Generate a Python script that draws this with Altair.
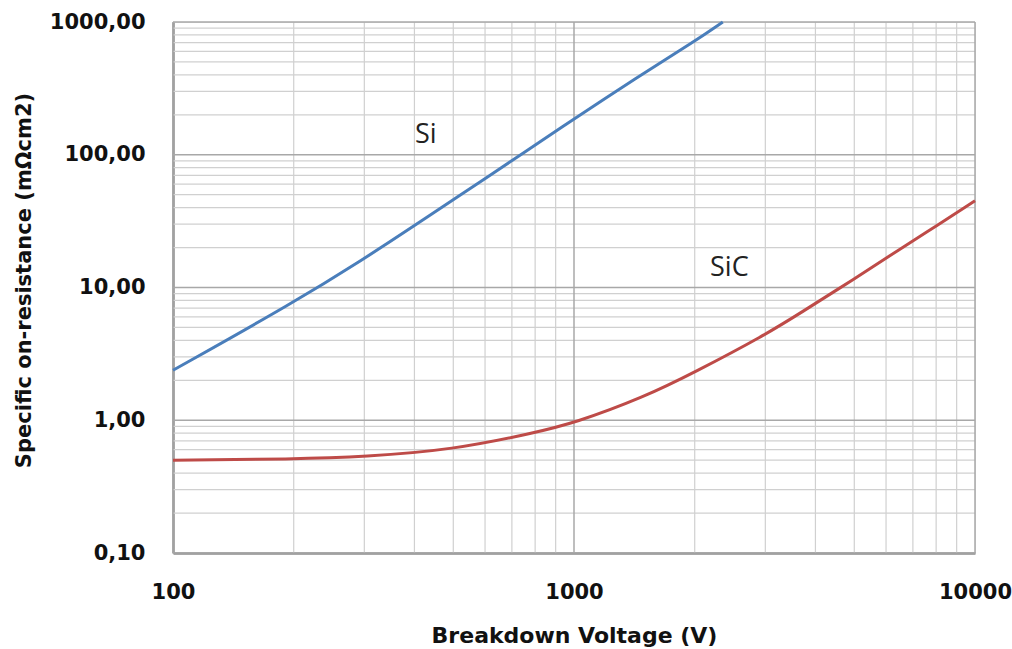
import altair as alt
import pandas as pd

# Si curve (V, mOhm*cm2)
si_v = [100, 200, 300, 400, 500, 700, 900, 1460, 2000, 2350]
si_r = [2.38, 7.7, 16.5, 29.2, 46, 90, 151, 395, 715, 1000]

# SiC curve
sic_v = [100, 200, 300, 500, 790, 1000, 1500, 2000, 3000, 3660, 5000, 6500, 8000, 10000]
sic_r = [0.50, 0.51, 0.53, 0.60, 0.80, 0.95, 1.5, 2.3, 4.4, 6.4, 11.6, 19.5, 29, 45]

x_ticks = [100, 1000, 10000]
y_ticks = [0.1, 1, 10, 100, 1000]

x_minor = [m * d for d in [100, 1000] for m in range(2, 10)]
y_minor = [m * d for d in [0.1, 1, 10, 100] for m in range(2, 10)]

labels = ["Si", "SiC"]
label_v = [427, 2440]
label_r = [141, 14.0]

FONT = "DejaVu Sans"

xscale = alt.Scale(type="log", domain=[100, 10000], nice=False)
yscale = alt.Scale(type="log", domain=[0.1, 1000], nice=False)

xaxis = alt.Axis(values=x_ticks, grid=False, ticks=False, domain=True,
                 domainColor="#8c8c8c", domainWidth=2.5,
                 labelExpr="format(datum.value, 'd')",
                 labelFont=FONT, labelFontWeight="bold", labelFontSize=21,
                 labelColor="#111", labelPadding=28, labelFlush=False,
                 title="Breakdown Voltage (V)", titleFont=FONT,
                 titleFontWeight="bold", titleFontSize=22, titleColor="#111",
                 titleY=82, titleBaseline="middle", titleX=401)
yaxis = alt.Axis(values=y_ticks, grid=False, ticks=False, domain=True,
                 domainColor="#8c8c8c", domainWidth=2.5,
                 labelExpr="replace(format(datum.value, '.2f'), '.', ',')",
                 labelFont=FONT, labelFontWeight="bold", labelFontSize=21,
                 labelColor="#111", labelPadding=28, labelFlush=False,
                 title="Specific  on-resistance (mΩcm2)", titleFont=FONT,
                 titleFontWeight="bold", titleFontSize=21, titleColor="#111",
                 titleX=-149, titleY=258, titleBaseline="middle")

df_lines = pd.DataFrame(
    {"V": si_v + sic_v, "R": si_r + sic_r,
     "series": ["Si"] * len(si_v) + ["SiC"] * len(sic_v)}
)

X = alt.X("V:Q", scale=xscale, axis=xaxis)
Y = alt.Y("R:Q", scale=yscale, axis=yaxis)

grid_minor_x = alt.Chart(pd.DataFrame({"V": x_minor})).mark_rule(
    color="#d0d0d0", strokeWidth=1.2).encode(x=X)
grid_minor_y = alt.Chart(pd.DataFrame({"R": y_minor})).mark_rule(
    color="#d0d0d0", strokeWidth=1.2).encode(y=Y)
grid_major_x = alt.Chart(pd.DataFrame({"V": x_ticks})).mark_rule(
    color="#a8a8a8", strokeWidth=1.5).encode(x=X)
grid_major_y = alt.Chart(pd.DataFrame({"R": y_ticks})).mark_rule(
    color="#a8a8a8", strokeWidth=1.5).encode(y=Y)

lines = alt.Chart(df_lines).mark_line(strokeWidth=3, interpolate="basis").encode(
    x=X, y=Y,
    color=alt.Color("series:N", scale=alt.Scale(domain=["Si", "SiC"],
                                                range=["#4a7ebb", "#be4b48"]),
                    legend=None),
)

text = alt.Chart(pd.DataFrame({"V": label_v, "R": label_r, "t": labels})).mark_text(
    font="Open Sans", fontSize=27, color="#222", align="center", baseline="middle"
).encode(x=X, y=Y, text="t:N")

chart = alt.layer(grid_minor_x, grid_minor_y, grid_major_x, grid_major_y, lines, text).properties(
    width=802, height=531,
    autosize=alt.AutoSizeParams(type="none"),
    padding={"left": 173, "top": 22, "right": 37, "bottom": 96},
).configure_view(stroke="#9a9a9a", strokeWidth=1.5).configure(background="white")

chart.save("out.html", embed_options={"renderer": "svg", "actions": False})
